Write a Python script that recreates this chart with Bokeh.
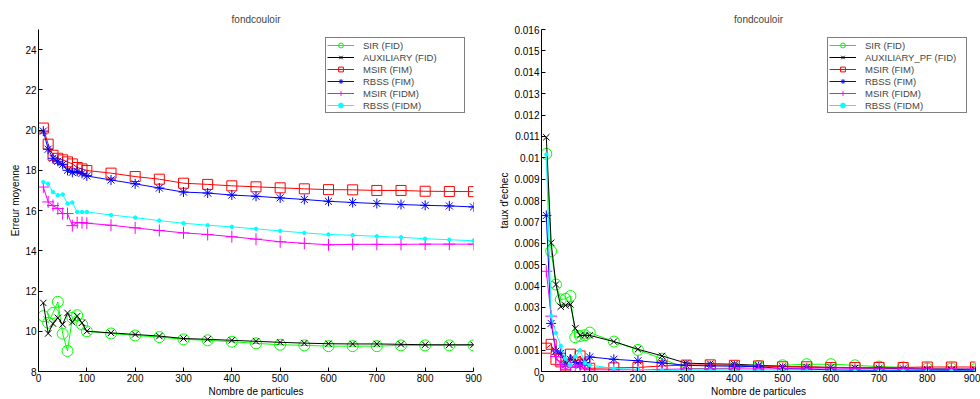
from bokeh.plotting import figure
from bokeh.layouts import row
from bokeh.models import FixedTicker, Legend, LegendItem, Range1d
from bokeh.embed import file_html
from bokeh.resources import INLINE

FONT = "Liberation Sans"

# ---------------- data ----------------
particles = [10, 20, 30, 40, 50, 60, 70, 80, 90, 100, 150, 200, 250, 300, 350,
             400, 450, 500, 550, 600, 650, 700, 750, 800, 850, 900]

# left panel: Erreur moyenne
sir_err = [10.75, 10.42, 10.91, 11.46, 9.88, 9.02, 10.67, 10.8, 10.34, 10.0, 9.89, 9.79, 9.71,
           9.6, 9.55, 9.48, 9.4, 9.33, 9.3, 9.26, 9.26, 9.26, 9.3, 9.3, 9.3, 9.3]
aux_err = [11.41, 9.89, 10.38, 10.67, 10.34, 10.91, 10.45, 10.75, 10.42, 10.0, 9.92, 9.84, 9.76,
           9.64, 9.6, 9.55, 9.5, 9.45, 9.41, 9.38, 9.37, 9.37, 9.35, 9.33, 9.33, 9.33]
msir_fim_err = [20.1, 19.3, 18.75, 18.6, 18.52, 18.42, 18.32, 18.14, 18.07, 17.99, 17.86, 17.69,
                17.56, 17.36, 17.3, 17.23, 17.18, 17.13, 17.08, 17.04, 17.03, 17.0, 17.0, 16.96,
                16.95, 16.94]
rbss_fim_err = [19.95, 19.05, 18.6, 18.45, 18.3, 18.0, 17.9, 17.95, 17.85, 17.72, 17.52, 17.33,
                17.12, 16.92, 16.87, 16.77, 16.71, 16.63, 16.55, 16.46, 16.4, 16.35, 16.3, 16.26,
                16.23, 16.18]
msir_fidm_err = [17.17, 16.43, 16.25, 16.1, 15.85, 15.85, 15.25, 15.4, 15.4, 15.37, 15.27, 15.14,
                 15.01, 14.89, 14.81, 14.7, 14.58, 14.45, 14.37, 14.3, 14.32, 14.32, 14.32, 14.33,
                 14.33, 14.33]
rbss_fidm_err = [17.41, 17.33, 16.92, 16.76, 16.8, 16.35, 16.4, 15.93, 15.93, 15.93, 15.78, 15.65,
                 15.5, 15.37, 15.27, 15.19, 15.09, 14.99, 14.89, 14.81, 14.77, 14.72, 14.67, 14.6,
                 14.55, 14.5]

# right panel: taux d'echec
sir_fail = [0.01018, 0.00563, 0.00407, 0.00337, 0.0034, 0.00353, 0.0016, 0.00166, 0.0017,
            0.00182, 0.0014, 0.00101, 0.0006, 0.00014, 0.00014, 0.00016, 0.00026, 0.00029,
            0.00034, 0.00034, 0.00029, 0.00023, 0.00019, 0.00014, 0.00014, 0.00011]
aux_fail = [0.01096, 0.00602, 0.00407, 0.00303, 0.00309, 0.00314, 0.00202, 0.00169, 0.00169,
            0.00169, 0.0014, 0.00104, 0.00073, 0.00039, 0.00036, 0.00034, 0.00029, 0.00023,
            0.00021, 0.00019, 0.00016, 0.00015, 0.00014, 0.00011, 0.0001, 0.00008]
msir_fim_fail = [0.00109, 0.00127, 0.00057, 0.00045, 0.00026, 0.00081, 0.00044, 0.00073,
                 0.00035, 0.00015, 0.00017, 0.00019, 0.00026, 0.0003, 0.00031, 0.00029, 0.00026,
                 0.00022, 0.00022, 0.00019, 0.00019, 0.00019, 0.00019, 0.00021, 0.00021, 0.00021]
rbss_fim_fail = [0.0073, 0.00225, 0.00096, 0.00085, 0.00031, 0.00057, 0.00042, 0.0003, 0.00042,
                 0.00068, 0.00057, 0.0005, 0.0004, 0.00029, 0.00026, 0.00025, 0.00022, 0.00014,
                 0.00012, 0.00007, 0.00005, 0.00005, 0.00005, 0.00005, 0.00005, 0.00005]
msir_fidm_fail = [0.00469, 0.00259, 0.0007, 0.0003, 0.0001, 0.00026, 0.0002, 0.0003, 0.00017,
                  0.00008, 0.00008, 0.00008, 0.0001, 0.00012, 0.00012, 0.00012, 0.00012, 0.00012,
                  0.00012, 0.00012, 0.00012, 0.00012, 0.00012, 0.00012, 0.00012, 0.00012]
rbss_fidm_fail = [0.01015, 0.0026, 0.0018, 0.0012, 0.0006, 0.0003, 0.0007, 0.001, 0.0004,
                  0.0003, 0.00014, 0.0001, 0.00005, 0.00004, 0.00004, 0.00003, 0.00003, 0.00003,
                  0.00003, 0.00002, 0.00002, 0.00002, 0.00002, 0.00002, 0.00002, 0.00002]

left_labels = ["SIR (FID)", "AUXILIARY (FID)", "MSIR (FIM)", "RBSS (FIM)", "MSIR (FIDM)", "RBSS (FIDM)"]
right_labels = ["SIR (FID)", "AUXILIARY_PF (FID)", "MSIR (FIM)", "RBSS (FIM)", "MSIR (FIDM)", "RBSS (FIDM)"]

x_ticks = [0, 100, 200, 300, 400, 500, 600, 700, 800, 900]
left_y_ticks = [8, 10, 12, 14, 16, 18, 20, 22, 24]
right_y_ticks = [0.0, 0.001, 0.002, 0.003, 0.004, 0.005, 0.006, 0.007, 0.008, 0.009,
                 0.01, 0.011, 0.012, 0.013, 0.014, 0.015, 0.016]
right_y_tick_labels = ["0", "0.001", "0.002", "0.003", "0.004", "0.005", "0.006", "0.007",
                       "0.008", "0.009", "0.01", "0.011", "0.012", "0.013", "0.014", "0.015",
                       "0.016"]

# marker styles (colour, marker, size, filled)
styles = [
    ("#00ff00", "circle", 11, False),
    ("#000000", "x", 9, False),
    ("#ff0000", "square", 10, False),
    ("#0000ff", "asterisk", 10, False),
    ("#ff00ff", "cross", 12, False),
    ("#00ffff", "circle", 3.5, True),
]


def make_fig(width, bl, br, ylabel, yr, yticks, series, labels, overrides=None):
    p = figure(width=width, height=399, output_backend="svg", toolbar_location=None,
               x_range=Range1d(0, 900), y_range=Range1d(*yr),
               min_border_left=bl, min_border_right=br, min_border_top=29, min_border_bottom=27,
               title="fondcouloir")
    p.title.text_font = FONT
    p.title.text_font_size = "10px"
    p.title.text_font_style = "normal"
    p.title.align = "center"
    p.title.standoff = 10
    p.outline_line_color = None
    p.xgrid.visible = False
    p.ygrid.visible = False
    p.background_fill_color = "white"
    p.border_fill_color = "white"

    for ax in (p.xaxis[0], p.yaxis[0]):
        ax.major_tick_in = 4
        ax.major_tick_out = 0
        ax.minor_tick_in = 0
        ax.minor_tick_out = 0
        ax.axis_line_color = "black"
        ax.major_tick_line_color = "black"
        ax.major_label_text_font = FONT
        ax.major_label_text_font_size = "10px"
        ax.major_label_text_color = "black"
        ax.axis_label_text_font = FONT
        ax.axis_label_text_font_size = "10px"
        ax.axis_label_text_font_style = "normal"
        ax.axis_label_text_color = "black"
        ax.major_label_standoff = 2
        ax.axis_label_standoff = 1
    p.xaxis.ticker = FixedTicker(ticks=x_ticks)
    p.yaxis.ticker = FixedTicker(ticks=yticks)
    if overrides:
        p.yaxis.major_label_overrides = overrides
    p.xaxis.axis_label = "Nombre de particules"
    p.yaxis.axis_label = ylabel

    items = []
    for ys, lab, (col, mk, sz, filled) in zip(series, labels, styles):
        ln = p.line(particles, ys, line_color=col, line_width=1)
        sc = p.scatter(particles, ys, marker=mk, size=sz, line_color=col, line_width=1,
                       fill_color=col if filled else None)
        items.append(LegendItem(label=lab, renderers=[ln, sc]))
    leg = Legend(items=items, location="top_right", margin=8, padding=1, spacing=0,
                 glyph_width=27, glyph_height=12, label_height=12, label_width=100,
                 label_standoff=9, label_text_font=FONT, label_text_font_size="9.5px",
                 border_line_color="black", border_line_width=1,
                 background_fill_color="white", background_fill_alpha=1.0)
    p.add_layout(leg)
    return p


p1 = make_fig(490, 38, 17, "Erreur moyenne", (8, 25), left_y_ticks,
              [sir_err, aux_err, msir_fim_err, rbss_fim_err, msir_fidm_err, rbss_fidm_err],
              left_labels)
p2 = make_fig(490, 51, 5, "taux d'echec", (0, 0.016), right_y_ticks,
              [sir_fail, aux_fail, msir_fim_fail, rbss_fim_fail, msir_fidm_fail, rbss_fidm_fail],
              right_labels, dict(zip(right_y_ticks, right_y_tick_labels)))

layout = row(p1, p2)
open("out.html", "w").write(file_html(layout, INLINE))
